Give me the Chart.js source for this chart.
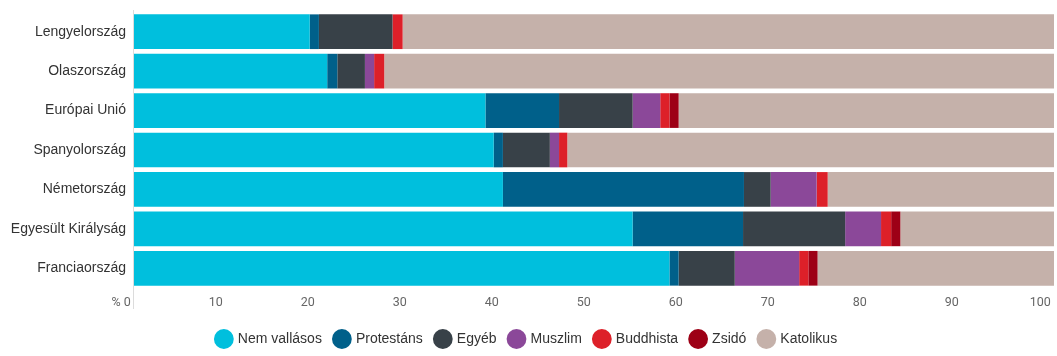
<!DOCTYPE html>
<html lang="hu">
<head>
<meta charset="utf-8">
<script src="https://cdn.jsdelivr.net/npm/chart.js@4/dist/chart.umd.min.js"></script>
<style>
  html, body { margin: 0; padding: 0; background: #fff; }
  #wrap { width: 1057px; height: 356px; position: relative; }
</style>
</head>
<body>
<div id="wrap"><canvas id="religionChart"></canvas></div>
<script>
const countries = [
  "Lengyelország",
  "Olaszország",
  "Európai Unió",
  "Spanyolország",
  "Németország",
  "Egyesült Királyság",
  "Franciaország",
];

const nemVallasos = [19.1, 21.0, 38.2, 39.1, 40.1, 54.2, 58.2];
const protestans = [1.0, 1.1, 8.0, 1.0, 26.2, 12.0, 1.0];
const egyeb = [8.0, 3.0, 8.0, 5.1, 2.9, 11.1, 6.1];
const muszlim = [0, 1.0, 3.0, 1.0, 5.0, 3.9, 7.0];
const buddhista = [1.1, 1.1, 1.0, 0.9, 1.2, 1.1, 1.0];
const zsido = [0, 0, 1.0, 0, 0, 1.0, 1.0];
const katolikus = [70.8, 72.8, 40.8, 52.9, 24.6, 16.7, 25.7];

const xTicks = [0, 10, 20, 30, 40, 50, 60, 70, 80, 90, 100];

const palette = {
  cyan: "#00bfdd",
  teal: "#00608a",
  slate: "#384148",
  purple: "#8b4899",
  red: "#dd2029",
  darkRed: "#9d0016",
  taupe: "#c5b1aa",
};

const series = [
  { label: "Nem vallásos", data: nemVallasos, color: palette.cyan },
  { label: "Protestáns", data: protestans, color: palette.teal },
  { label: "Egyéb", data: egyeb, color: palette.slate },
  { label: "Muszlim", data: muszlim, color: palette.purple },
  { label: "Buddhista", data: buddhista, color: palette.red },
  { label: "Zsidó", data: zsido, color: palette.darkRed },
  { label: "Katolikus", data: katolikus, color: palette.taupe },
];

// light vertical axis line that runs down past the bars into the tick row
const axisLine = {
  id: "axisLine",
  beforeDatasetsDraw(chart) {
    const { ctx, chartArea } = chart;
    ctx.save();
    ctx.strokeStyle = "#dcdcdc";
    ctx.lineWidth = 1;
    ctx.beginPath();
    ctx.moveTo(chartArea.left - 0.5, chartArea.top - 2);
    ctx.lineTo(chartArea.left - 0.5, chartArea.bottom + 21);
    ctx.stroke();
    ctx.restore();
  },
};

new Chart(document.getElementById("religionChart"), {
  type: "bar",
  data: {
    labels: countries,
    datasets: series.map((s) => ({
      label: s.label,
      data: s.data,
      backgroundColor: s.color,
      borderWidth: 0,
      barPercentage: 0.88,
      categoryPercentage: 1.0,
    })),
  },
  options: {
    indexAxis: "y",
    responsive: true,
    maintainAspectRatio: false,
    animation: false,
    layout: { padding: { top: 12, right: 3, left: 0, bottom: 0 } },
    scales: {
      x: {
        stacked: true,
        min: 0,
        max: 100,
        afterBuildTicks: (scale) => {
          scale.ticks = xTicks.map((v) => ({ value: v }));
        },
        afterFit: (scale) => {
          scale.height = 31;
          scale.paddingLeft = 0;
          scale.paddingRight = 0;
        },
        grid: { display: false, drawTicks: false },
        border: { display: false },
        ticks: {
          align: "end",
          padding: 7,
          color: "#666",
          font: { family: "Roboto, 'Liberation Sans', sans-serif", size: 12.5 },
          callback: (v) => (v === 0 ? "% 0 " : `${v} `),
        },
      },
      y: {
        stacked: true,
        afterFit: (scale) => {
          scale.width = 134;
        },
        grid: { display: false },
        border: { display: false },
        ticks: {
          padding: 0,
          color: "#333",
          font: { family: "'Liberation Sans', Arial, sans-serif", size: 14 },
        },
      },
    },
    plugins: {
      legend: {
        position: "bottom",
        labels: {
          usePointStyle: true,
          pointStyle: "circle",
          boxWidth: 15,
          boxHeight: 15,
          padding: 13,
          color: "#333",
          font: { family: "'Liberation Sans', Arial, sans-serif", size: 14 },
        },
      },
      tooltip: { enabled: false },
    },
  },
  plugins: [axisLine],
});
</script>
</body>
</html>
